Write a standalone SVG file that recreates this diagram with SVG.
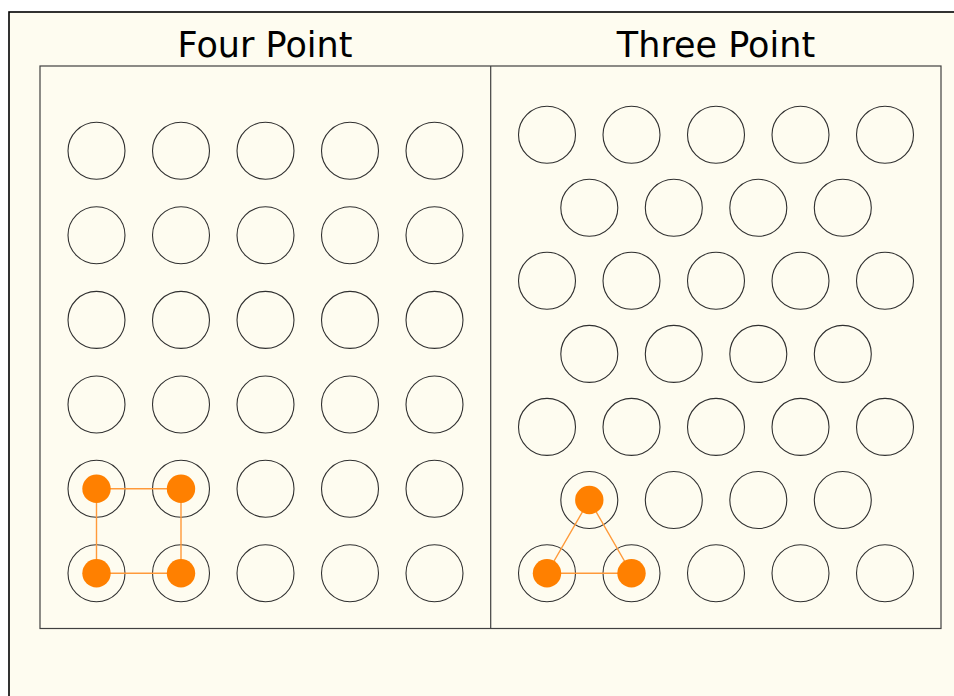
<svg xmlns="http://www.w3.org/2000/svg" width="954" height="696" viewBox="0 0 954 696">
<style>
.bg{fill:#fefcf0;stroke:#000;stroke-width:1.6}
.panel{fill:none;stroke:#404040;stroke-width:1.2}
.title{font-family:"DejaVu Sans",sans-serif;font-size:35px;fill:#000;text-anchor:middle}
.hole{fill:none;stroke:#303030;stroke-width:1.1}
.pt{fill:#ff8000}
.link{stroke:#ff9a3a;stroke-width:1.4;fill:none}
</style>
<defs>
<circle id="h" r="28.5" class="hole"/>
</defs>
<rect x="0" y="0" width="954" height="696" fill="#fff"/>
<rect class="bg" x="9" y="12" width="960" height="700"/>
<g id="panels">
<rect class="panel" x="40" y="66" width="901" height="562.5"/>
<line class="panel" x1="490.7" y1="66" x2="490.7" y2="628.5"/>
</g>
<text class="title" x="265" y="57">Four Point</text>
<text class="title" x="716" y="57">Three Point</text>
<g id="four-point">
<g id="fp-r1"><use href="#h" x="96.5" y="150.7"/><use href="#h" x="181" y="150.7"/><use href="#h" x="265.5" y="150.7"/><use href="#h" x="350" y="150.7"/><use href="#h" x="434.5" y="150.7"/></g>
<g id="fp-r2"><use href="#h" x="96.5" y="235.3"/><use href="#h" x="181" y="235.3"/><use href="#h" x="265.5" y="235.3"/><use href="#h" x="350" y="235.3"/><use href="#h" x="434.5" y="235.3"/></g>
<g id="fp-r3"><use href="#h" x="96.5" y="319.9"/><use href="#h" x="181" y="319.9"/><use href="#h" x="265.5" y="319.9"/><use href="#h" x="350" y="319.9"/><use href="#h" x="434.5" y="319.9"/></g>
<g id="fp-r4"><use href="#h" x="96.5" y="404.5"/><use href="#h" x="181" y="404.5"/><use href="#h" x="265.5" y="404.5"/><use href="#h" x="350" y="404.5"/><use href="#h" x="434.5" y="404.5"/></g>
<g id="fp-r5"><use href="#h" x="96.5" y="488.8"/><use href="#h" x="181" y="488.8"/><use href="#h" x="265.5" y="488.8"/><use href="#h" x="350" y="488.8"/><use href="#h" x="434.5" y="488.8"/></g>
<g id="fp-r6"><use href="#h" x="96.5" y="573.2"/><use href="#h" x="181" y="573.2"/><use href="#h" x="265.5" y="573.2"/><use href="#h" x="350" y="573.2"/><use href="#h" x="434.5" y="573.2"/></g>
</g>
<g id="three-point">
<g id="tp-r1"><use href="#h" x="547" y="134.7"/><use href="#h" x="631.5" y="134.7"/><use href="#h" x="716" y="134.7"/><use href="#h" x="800.5" y="134.7"/><use href="#h" x="885" y="134.7"/></g>
<g id="tp-r2"><use href="#h" x="589.3" y="207.8"/><use href="#h" x="673.8" y="207.8"/><use href="#h" x="758.3" y="207.8"/><use href="#h" x="842.8" y="207.8"/></g>
<g id="tp-r3"><use href="#h" x="547" y="280.8"/><use href="#h" x="631.5" y="280.8"/><use href="#h" x="716" y="280.8"/><use href="#h" x="800.5" y="280.8"/><use href="#h" x="885" y="280.8"/></g>
<g id="tp-r4"><use href="#h" x="589.3" y="353.9"/><use href="#h" x="673.8" y="353.9"/><use href="#h" x="758.3" y="353.9"/><use href="#h" x="842.8" y="353.9"/></g>
<g id="tp-r5"><use href="#h" x="547" y="426.9"/><use href="#h" x="631.5" y="426.9"/><use href="#h" x="716" y="426.9"/><use href="#h" x="800.5" y="426.9"/><use href="#h" x="885" y="426.9"/></g>
<g id="tp-r6"><use href="#h" x="589.3" y="500"/><use href="#h" x="673.8" y="500"/><use href="#h" x="758.3" y="500"/><use href="#h" x="842.8" y="500"/></g>
<g id="tp-r7"><use href="#h" x="547" y="573.2"/><use href="#h" x="631.5" y="573.2"/><use href="#h" x="716" y="573.2"/><use href="#h" x="800.5" y="573.2"/><use href="#h" x="885" y="573.2"/></g>
</g>
<g id="connectors">
<polygon class="link" points="96.5,488.8 181,488.8 181,573.2 96.5,573.2"/>
<polygon class="link" points="589.3,500 631.5,573.2 547,573.2"/>
</g>
<g id="fp-points">
<circle class="pt" cx="96.5" cy="488.8" r="14.2"/>
<circle class="pt" cx="181" cy="488.8" r="14.2"/>
<circle class="pt" cx="96.5" cy="573.2" r="14.2"/>
<circle class="pt" cx="181" cy="573.2" r="14.2"/>
</g>
<g id="tp-points">
<circle class="pt" cx="589.3" cy="500" r="14.2"/>
<circle class="pt" cx="547" cy="573.2" r="14.2"/>
<circle class="pt" cx="631.5" cy="573.2" r="14.2"/>
</g>
</svg>
